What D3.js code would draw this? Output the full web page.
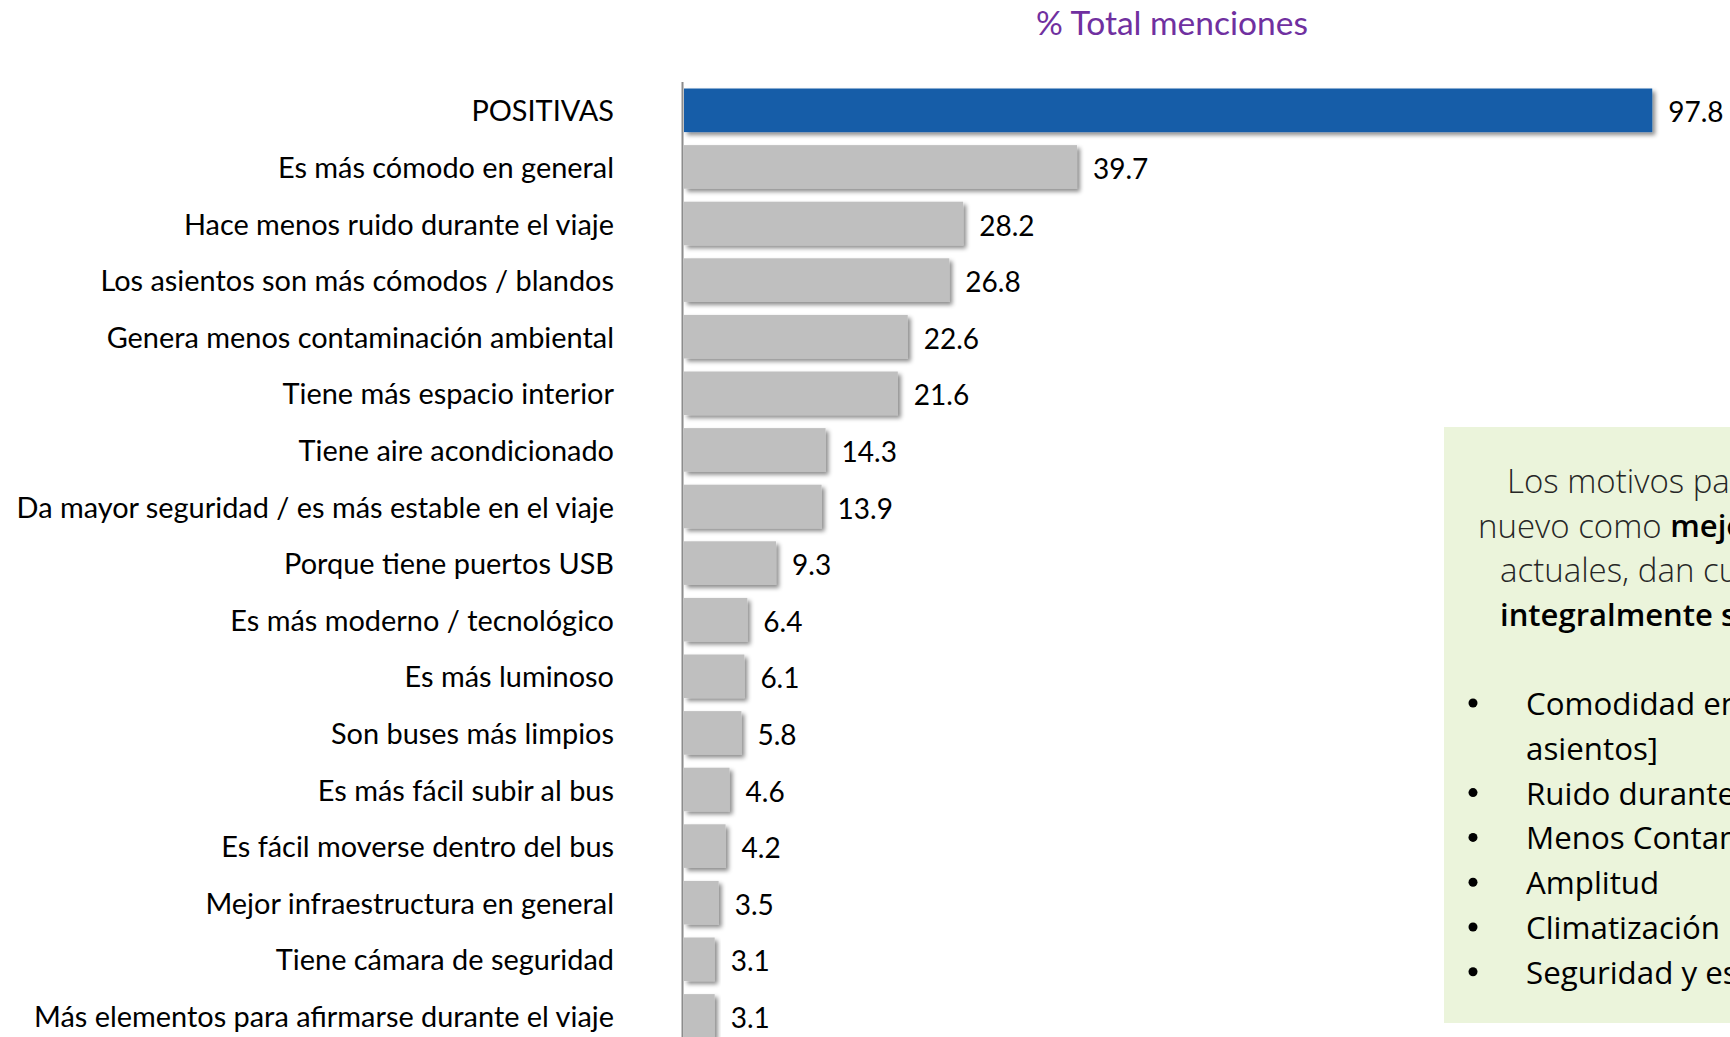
<!DOCTYPE html>
<html>
<head>
<meta charset="utf-8">
<script src="https://cdn.jsdelivr.net/npm/d3@7"></script>
<style>
  html, body { margin: 0; padding: 0; background: #fff; overflow: hidden; }
  svg { display: block; }
</style>
</head>
<body>
<div id="chart"></div>
<script>
// data
var categories = [
  "POSITIVAS",
  "Es más cómodo en general",
  "Hace menos ruido durante el viaje",
  "Los asientos son más cómodos / blandos",
  "Genera menos contaminación ambiental",
  "Tiene más espacio interior",
  "Tiene aire acondicionado",
  "Da mayor seguridad / es más estable en el viaje",
  "Porque tiene puertos USB",
  "Es más moderno / tecnológico",
  "Es más luminoso",
  "Son buses más limpios",
  "Es más fácil subir al bus",
  "Es fácil moverse dentro del bus",
  "Mejor infraestructura en general",
  "Tiene cámara de seguridad",
  "Más elementos para afirmarse durante el viaje"
];
var values = [97.8, 39.7, 28.2, 26.8, 22.6, 21.6, 14.3, 13.9, 9.3, 6.4, 6.1, 5.8, 4.6, 4.2, 3.5, 3.1, 3.1];
var chartTitle = "% Total menciones";

// text of the note box (right side, cut by the page edge)
var noteLines = [
  [{t: "Los motivos para evaluar el bus", b: false}],
  [{t: "nuevo como ", b: false}, {t: "mejor que los", b: true}],
  [{t: "actuales, dan cuenta que", b: false}],
  [{t: "integralmente se destacan:", b: true}]
];
var noteBullets = [
  ["Comodidad en general [incl.", "asientos]"],
  ["Ruido durante el viaje"],
  ["Menos Contaminación"],
  ["Amplitud"],
  ["Climatización"],
  ["Seguridad y estabilidad"]
];

var width = 1730, height = 1037;
var font = "Lato, 'Noto Sans', sans-serif";

var svg = d3.select("#chart").append("svg")
    .attr("width", width)
    .attr("height", height);

var defs = svg.append("defs");
var shadow = defs.append("filter")
    .attr("id", "shadow")
    .attr("x", "-10%").attr("y", "-20%")
    .attr("width", "130%").attr("height", "160%");
shadow.append("feDropShadow")
    .attr("dx", 3).attr("dy", 3)
    .attr("stdDeviation", 2.2)
    .attr("flood-color", "#000")
    .attr("flood-opacity", 0.45);

var x = d3.scaleLinear()
    .domain([0, 100])
    .range([684, 1674]);

var y = d3.scaleBand()
    .domain(categories)
    .range([82, 82 + 56.6 * categories.length])
    .paddingInner(0.23)
    .paddingOuter(0.115);

// title
svg.append("text")
    .attr("x", 1172)
    .attr("y", 22)
    .attr("text-anchor", "middle")
    .attr("dominant-baseline", "central")
    .style("font-family", font)
    .style("font-size", "33.5px")
    .style("fill", "#7030A0")
    .text(chartTitle);

// bars
svg.selectAll(".bar")
    .data(values)
    .enter().append("rect")
    .attr("class", "bar")
    .attr("x", x(0))
    .attr("y", function (d, i) { return y(categories[i]); })
    .attr("width", function (d) { return x(d) - x(0); })
    .attr("height", y.bandwidth())
    .attr("fill", function (d, i) { return i === 0 ? "#175DA8" : "#BFBFBF"; })
    .attr("filter", "url(#shadow)");

// axis line
svg.append("line")
    .attr("x1", x(0) - 1.5).attr("x2", x(0) - 1.5)
    .attr("y1", 82).attr("y2", height)
    .attr("stroke", "#8C8C8C")
    .attr("stroke-width", 2);

// category labels
svg.selectAll(".cat")
    .data(categories)
    .enter().append("text")
    .attr("class", "cat")
    .attr("x", 614)
    .attr("y", function (d) { return y(d) + y.bandwidth() / 2 - 0.5; })
    .attr("text-anchor", "end")
    .attr("dominant-baseline", "central")
    .style("font-family", font)
    .style("font-size", "28.9px")
    .style("fill", "#000")
    .text(function (d) { return d; });

// value labels
svg.selectAll(".val")
    .data(values)
    .enter().append("text")
    .attr("class", "val")
    .attr("x", function (d) { return x(d) + 16; })
    .attr("y", function (d, i) { return y(categories[i]) + y.bandwidth() / 2 + 1; })
    .attr("dominant-baseline", "central")
    .style("font-family", font)
    .style("font-size", "28px")
    .style("fill", "#000")
    .text(function (d) { return d.toFixed(1); });

// note box
var note = svg.append("g");
note.append("rect")
    .attr("x", 1444).attr("y", 427)
    .attr("width", 500).attr("height", 596)
    .attr("fill", "#EBF4DB");

var noteStarts = [1507, 1478, 1500, 1500];
noteLines.forEach(function (parts, i) {
  var t = note.append("text")
      .attr("x", noteStarts[i])
      .attr("y", 480 + i * 44.6)
      .attr("dominant-baseline", "central")
      .style("font-family", "'Open Sans', sans-serif")
      .style("font-size", "32.5px");
  parts.forEach(function (p) {
    t.append("tspan")
        .style("font-weight", p.b ? 600 : 300)
        .style("font-size", p.b ? "31px" : "33px")
        .style("fill", p.b ? "#000" : "#262626")
        .text(p.t);
  });
});

var lineNo = 0;
noteBullets.forEach(function (item) {
  item.forEach(function (ln, j) {
    var cy = 703 + lineNo * 44.8;
    if (j === 0) {
      note.append("circle")
          .attr("cx", 1473).attr("cy", cy)
          .attr("r", 4.5)
          .attr("fill", "#000");
    }
    note.append("text")
        .attr("x", 1526)
        .attr("y", cy)
        .attr("dominant-baseline", "central")
        .style("font-family", "'Open Sans', sans-serif")
        .style("font-size", "31.3px")
        .style("fill", "#000")
        .text(ln);
    lineNo++;
  });
});
</script>
</body>
</html>
